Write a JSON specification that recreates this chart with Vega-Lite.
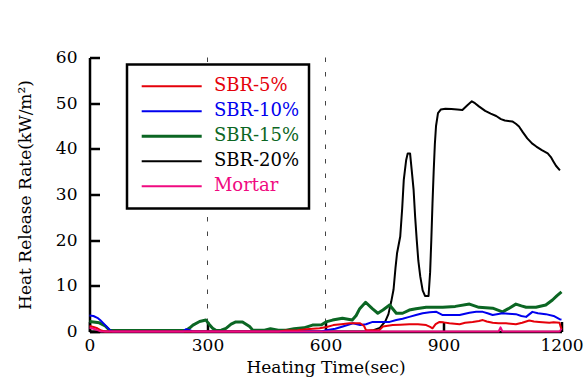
{
  "$schema": "https://vega.github.io/schema/vega-lite/v6.json",
  "width": 472,
  "height": 274,
  "autosize": {"type": "none"},
  "padding": {"left": 89.5, "top": 57.5, "right": 22.5, "bottom": 53.5},
  "background": "white",
  "config": {
    "view": {"stroke": null},
    "font": "DejaVu Serif",
    "axis": {
      "grid": false,
      "domainColor": "black",
      "domainWidth": 2.5,
      "tickColor": "black",
      "tickWidth": 2.5,
      "tickSize": -10,
      "labelFont": "DejaVu Serif",
      "labelFontSize": 17,
      "labelColor": "black",
      "titleFont": "DejaVu Serif",
      "titleFontSize": 17,
      "titleFontWeight": "normal",
      "titleColor": "black",
      "zindex": 1
    }
  },
  "layer": [
    {
      "data": {"values": [{"t": 300}, {"t": 600}]},
      "mark": {"type": "rule", "color": "#444444", "strokeWidth": 1, "strokeDash": [4.5, 10]},
      "encoding": {
        "x": {"field": "t", "type": "quantitative"}
      }
    },
    {
      "data": {"values": [
        {"s":"SBR-20%","t":0,"v":0},{"s":"SBR-20%","t":700,"v":0},{"s":"SBR-20%","t":722,"v":0.3},{"s":"SBR-20%","t":738,"v":0.8},{"s":"SBR-20%","t":752,"v":2.2},{"s":"SBR-20%","t":760,"v":3.8},{"s":"SBR-20%","t":767,"v":6.5},{"s":"SBR-20%","t":773,"v":9.2},{"s":"SBR-20%","t":778,"v":14},{"s":"SBR-20%","t":782,"v":17.2},{"s":"SBR-20%","t":790,"v":20.8},{"s":"SBR-20%","t":795,"v":27},{"s":"SBR-20%","t":799,"v":33.2},{"s":"SBR-20%","t":805,"v":37.5},{"s":"SBR-20%","t":809,"v":39},{"s":"SBR-20%","t":815,"v":39},{"s":"SBR-20%","t":819,"v":35.5},{"s":"SBR-20%","t":824,"v":31},{"s":"SBR-20%","t":828,"v":25},{"s":"SBR-20%","t":832,"v":20},{"s":"SBR-20%","t":836,"v":15.5},{"s":"SBR-20%","t":841,"v":12},{"s":"SBR-20%","t":847,"v":9},{"s":"SBR-20%","t":853,"v":7.8},{"s":"SBR-20%","t":862,"v":7.8},{"s":"SBR-20%","t":866,"v":13},{"s":"SBR-20%","t":869,"v":20},{"s":"SBR-20%","t":872,"v":28},{"s":"SBR-20%","t":875,"v":35},{"s":"SBR-20%","t":878,"v":41},{"s":"SBR-20%","t":881,"v":45},{"s":"SBR-20%","t":886,"v":47.8},{"s":"SBR-20%","t":893,"v":48.6},{"s":"SBR-20%","t":905,"v":48.8},{"s":"SBR-20%","t":920,"v":48.7},{"s":"SBR-20%","t":935,"v":48.6},{"s":"SBR-20%","t":948,"v":48.5},{"s":"SBR-20%","t":960,"v":49.5},{"s":"SBR-20%","t":972,"v":50.4},{"s":"SBR-20%","t":980,"v":50},{"s":"SBR-20%","t":990,"v":49.3},{"s":"SBR-20%","t":1006,"v":48.3},{"s":"SBR-20%","t":1020,"v":47.7},{"s":"SBR-20%","t":1034,"v":47.2},{"s":"SBR-20%","t":1046,"v":46.5},{"s":"SBR-20%","t":1056,"v":46.2},{"s":"SBR-20%","t":1075,"v":46},{"s":"SBR-20%","t":1084,"v":45.5},{"s":"SBR-20%","t":1092,"v":44.9},{"s":"SBR-20%","t":1102,"v":43.6},{"s":"SBR-20%","t":1113,"v":42.3},{"s":"SBR-20%","t":1125,"v":41.2},{"s":"SBR-20%","t":1136,"v":40.5},{"s":"SBR-20%","t":1150,"v":39.7},{"s":"SBR-20%","t":1165,"v":39},{"s":"SBR-20%","t":1173,"v":38.2},{"s":"SBR-20%","t":1179,"v":37.3},{"s":"SBR-20%","t":1186,"v":36.3},{"s":"SBR-20%","t":1196,"v":35.3},

        {"s":"SBR-15%","t":0,"v":2.2},{"s":"SBR-15%","t":10,"v":2.1},{"s":"SBR-15%","t":25,"v":1.9},{"s":"SBR-15%","t":40,"v":1.2},{"s":"SBR-15%","t":52,"v":0.2},{"s":"SBR-15%","t":245,"v":0.2},{"s":"SBR-15%","t":255,"v":0.8},{"s":"SBR-15%","t":263,"v":1.4},{"s":"SBR-15%","t":280,"v":2.2},{"s":"SBR-15%","t":296,"v":2.5},{"s":"SBR-15%","t":305,"v":1.5},{"s":"SBR-15%","t":313,"v":0.7},{"s":"SBR-15%","t":322,"v":0.2},{"s":"SBR-15%","t":335,"v":0.3},{"s":"SBR-15%","t":347,"v":0.7},{"s":"SBR-15%","t":360,"v":1.6},{"s":"SBR-15%","t":372,"v":2.1},{"s":"SBR-15%","t":389,"v":2.1},{"s":"SBR-15%","t":400,"v":1.5},{"s":"SBR-15%","t":407,"v":1.1},{"s":"SBR-15%","t":415,"v":0.3},{"s":"SBR-15%","t":445,"v":0.3},{"s":"SBR-15%","t":460,"v":0.6},{"s":"SBR-15%","t":480,"v":0.3},{"s":"SBR-15%","t":500,"v":0.3},{"s":"SBR-15%","t":520,"v":0.6},{"s":"SBR-15%","t":545,"v":0.8},{"s":"SBR-15%","t":567,"v":1.4},{"s":"SBR-15%","t":590,"v":1.5},{"s":"SBR-15%","t":601,"v":2.1},{"s":"SBR-15%","t":618,"v":2.5},{"s":"SBR-15%","t":643,"v":2.9},{"s":"SBR-15%","t":668,"v":2.5},{"s":"SBR-15%","t":678,"v":3.5},{"s":"SBR-15%","t":687,"v":5.0},{"s":"SBR-15%","t":702,"v":6.4},{"s":"SBR-15%","t":719,"v":5.0},{"s":"SBR-15%","t":733,"v":4.0},{"s":"SBR-15%","t":746,"v":4.7},{"s":"SBR-15%","t":763,"v":5.8},{"s":"SBR-15%","t":780,"v":4.0},{"s":"SBR-15%","t":796,"v":4.0},{"s":"SBR-15%","t":813,"v":4.7},{"s":"SBR-15%","t":830,"v":5.0},{"s":"SBR-15%","t":856,"v":5.3},{"s":"SBR-15%","t":898,"v":5.3},{"s":"SBR-15%","t":930,"v":5.5},{"s":"SBR-15%","t":966,"v":6.0},{"s":"SBR-15%","t":990,"v":5.3},{"s":"SBR-15%","t":1025,"v":5.1},{"s":"SBR-15%","t":1050,"v":4.3},{"s":"SBR-15%","t":1065,"v":5.0},{"s":"SBR-15%","t":1084,"v":6.0},{"s":"SBR-15%","t":1098,"v":5.6},{"s":"SBR-15%","t":1110,"v":5.3},{"s":"SBR-15%","t":1135,"v":5.3},{"s":"SBR-15%","t":1160,"v":5.8},{"s":"SBR-15%","t":1177,"v":6.9},{"s":"SBR-15%","t":1188,"v":7.8},{"s":"SBR-15%","t":1200,"v":8.7},

        {"s":"SBR-10%","t":0,"v":3.5},{"s":"SBR-10%","t":10,"v":3.4},{"s":"SBR-10%","t":20,"v":3.0},{"s":"SBR-10%","t":27,"v":2.5},{"s":"SBR-10%","t":40,"v":1.4},{"s":"SBR-10%","t":52,"v":0.3},{"s":"SBR-10%","t":60,"v":0},{"s":"SBR-10%","t":238,"v":0},{"s":"SBR-10%","t":245,"v":0.5},{"s":"SBR-10%","t":255,"v":0.3},{"s":"SBR-10%","t":262,"v":0},{"s":"SBR-10%","t":590,"v":0},{"s":"SBR-10%","t":602,"v":0.3},{"s":"SBR-10%","t":625,"v":0.6},{"s":"SBR-10%","t":644,"v":1.1},{"s":"SBR-10%","t":670,"v":1.8},{"s":"SBR-10%","t":688,"v":1.4},{"s":"SBR-10%","t":703,"v":1.6},{"s":"SBR-10%","t":720,"v":2.1},{"s":"SBR-10%","t":746,"v":2.1},{"s":"SBR-10%","t":763,"v":2.1},{"s":"SBR-10%","t":780,"v":2.5},{"s":"SBR-10%","t":796,"v":2.8},{"s":"SBR-10%","t":813,"v":3.2},{"s":"SBR-10%","t":830,"v":3.6},{"s":"SBR-10%","t":847,"v":4.0},{"s":"SBR-10%","t":865,"v":4.2},{"s":"SBR-10%","t":882,"v":4.3},{"s":"SBR-10%","t":898,"v":3.6},{"s":"SBR-10%","t":941,"v":3.6},{"s":"SBR-10%","t":966,"v":4.1},{"s":"SBR-10%","t":983,"v":4.3},{"s":"SBR-10%","t":1000,"v":4.3},{"s":"SBR-10%","t":1012,"v":4.0},{"s":"SBR-10%","t":1025,"v":3.6},{"s":"SBR-10%","t":1050,"v":4.0},{"s":"SBR-10%","t":1065,"v":3.9},{"s":"SBR-10%","t":1084,"v":3.8},{"s":"SBR-10%","t":1098,"v":3.4},{"s":"SBR-10%","t":1110,"v":3.2},{"s":"SBR-10%","t":1126,"v":4.3},{"s":"SBR-10%","t":1140,"v":4.0},{"s":"SBR-10%","t":1160,"v":3.8},{"s":"SBR-10%","t":1180,"v":3.4},{"s":"SBR-10%","t":1195,"v":2.7},{"s":"SBR-10%","t":1200,"v":2.6},

        {"s":"SBR-5%","t":0,"v":1.2},{"s":"SBR-5%","t":10,"v":1.0},{"s":"SBR-5%","t":20,"v":0.7},{"s":"SBR-5%","t":30,"v":0.2},{"s":"SBR-5%","t":40,"v":0},{"s":"SBR-5%","t":480,"v":0},{"s":"SBR-5%","t":500,"v":0.2},{"s":"SBR-5%","t":530,"v":0.3},{"s":"SBR-5%","t":551,"v":0.5},{"s":"SBR-5%","t":585,"v":0.7},{"s":"SBR-5%","t":603,"v":1.0},{"s":"SBR-5%","t":620,"v":1.4},{"s":"SBR-5%","t":640,"v":1.6},{"s":"SBR-5%","t":661,"v":1.8},{"s":"SBR-5%","t":688,"v":1.8},{"s":"SBR-5%","t":698,"v":1.2},{"s":"SBR-5%","t":703,"v":0.3},{"s":"SBR-5%","t":737,"v":0.3},{"s":"SBR-5%","t":746,"v":1.1},{"s":"SBR-5%","t":771,"v":1.4},{"s":"SBR-5%","t":790,"v":1.5},{"s":"SBR-5%","t":813,"v":1.6},{"s":"SBR-5%","t":835,"v":1.6},{"s":"SBR-5%","t":856,"v":1.4},{"s":"SBR-5%","t":866,"v":1.0},{"s":"SBR-5%","t":872,"v":0.7},{"s":"SBR-5%","t":880,"v":1.6},{"s":"SBR-5%","t":890,"v":2.1},{"s":"SBR-5%","t":900,"v":2.0},{"s":"SBR-5%","t":915,"v":1.8},{"s":"SBR-5%","t":941,"v":1.6},{"s":"SBR-5%","t":955,"v":1.9},{"s":"SBR-5%","t":974,"v":2.1},{"s":"SBR-5%","t":990,"v":2.3},{"s":"SBR-5%","t":1000,"v":2.5},{"s":"SBR-5%","t":1010,"v":2.2},{"s":"SBR-5%","t":1025,"v":1.9},{"s":"SBR-5%","t":1040,"v":1.8},{"s":"SBR-5%","t":1059,"v":1.8},{"s":"SBR-5%","t":1084,"v":1.6},{"s":"SBR-5%","t":1100,"v":1.9},{"s":"SBR-5%","t":1118,"v":2.4},{"s":"SBR-5%","t":1130,"v":2.2},{"s":"SBR-5%","t":1143,"v":2.1},{"s":"SBR-5%","t":1169,"v":1.9},{"s":"SBR-5%","t":1180,"v":2.0},{"s":"SBR-5%","t":1195,"v":1.9},{"s":"SBR-5%","t":1198,"v":1.0},{"s":"SBR-5%","t":1200,"v":0.5},

        {"s":"Mortar","t":0,"v":0.8},{"s":"Mortar","t":10,"v":0.6},{"s":"Mortar","t":20,"v":0.3},{"s":"Mortar","t":30,"v":0},{"s":"Mortar","t":1040,"v":0},{"s":"Mortar","t":1045,"v":0.9},{"s":"Mortar","t":1050,"v":0},{"s":"Mortar","t":1195,"v":0},{"s":"Mortar","t":1200,"v":0.6}
      ]},
      "mark": {"type": "line", "strokeCap": "butt", "strokeJoin": "round"},
      "encoding": {
        "x": {
          "field": "t", "type": "quantitative",
          "scale": {"domain": [0, 1200], "nice": false, "zero": false},
          "axis": {
            "values": [0, 300, 600, 900, 1200],
            "format": "d",
            "labelFlush": false,
            "labelPadding": 15.5,
            "title": "Heating Time(sec)",
            "titlePadding": 6
          }
        },
        "y": {
          "field": "v", "type": "quantitative",
          "scale": {"domain": [0, 60], "nice": false},
          "axis": {
            "values": [0, 10, 20, 30, 40, 50, 60],
            "format": "d",
            "labelPadding": 22.5,
            "title": "Heat Release Rate(kW/m²)",
            "titlePadding": 21
          }
        },
        "color": {
          "field": "s", "type": "nominal",
          "scale": {
            "domain": ["SBR-5%", "SBR-10%", "SBR-15%", "SBR-20%", "Mortar"],
            "range": ["#e5000a", "#0000ee", "#0b6623", "#000000", "#f00a80"]
          },
          "legend": {
            "orient": "none",
            "legendX": 37.5,
            "legendY": 7,
            "title": null,
            "symbolType": "stroke",
            "symbolSize": 3600,
            "symbolOffset": 3.7,
            "clipHeight": 24.7,
            "rowPadding": 0,
            "padding": 9.5,
            "labelOffset": 10.7,
            "labelFont": "DejaVu Serif",
            "labelFontSize": 18,
            "strokeColor": "black",
            "fillColor": "white",
            "encode": {
              "labels": {"update": {"fill": {"scale": "color", "field": "value"}}},
              "legend": {"update": {"strokeWidth": {"value": 2.5}}}
            }
          }
        },
        "strokeWidth": {
          "field": "s", "type": "nominal",
          "scale": {
            "type": "ordinal",
            "domain": ["SBR-5%", "SBR-10%", "SBR-15%", "SBR-20%", "Mortar"],
            "range": [2, 2, 3, 2, 2]
          }
        }
      }
    }
  ]
}
